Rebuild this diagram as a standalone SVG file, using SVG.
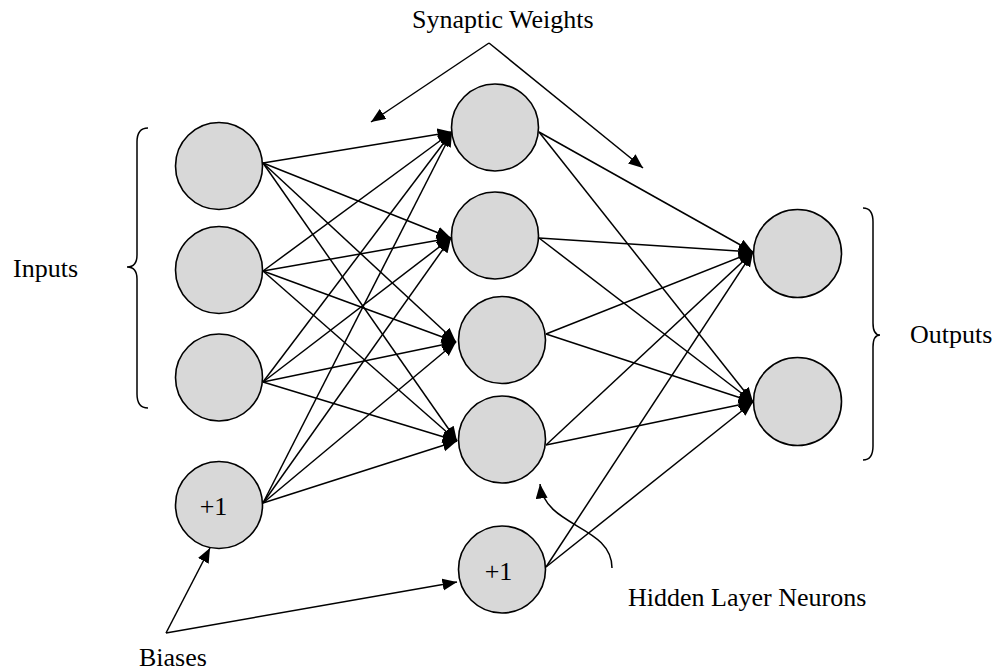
<svg xmlns="http://www.w3.org/2000/svg" width="995" height="671" viewBox="0 0 995 671">
  <style>
    .node { fill: #d8d8d8; stroke: #000; stroke-width: 1.6; }
    .edge { stroke: #000; stroke-width: 1.5; fill: none; marker-end: url(#head); }
    .plain { stroke: #000; stroke-width: 1.5; fill: none; }
    .label { font-family: "Liberation Serif", "Times New Roman", serif; font-size: 26px; fill: #000; }
  </style>
  <defs>
    <marker id="head" markerUnits="userSpaceOnUse" markerWidth="16" markerHeight="13" refX="14.5" refY="6" orient="auto">
      <path d="M0,0 L14.5,6 L0,12 z" fill="#000"/>
    </marker>
  </defs>
  <rect width="995" height="671" fill="#fff"/>

  <!-- weighted connections -->
  <g id="connectors">
    <!-- input 1 to hidden layer -->
    <line class="edge" x1="263" y1="163" x2="452" y2="132"/>
    <line class="edge" x1="263" y1="163" x2="451" y2="238"/>
    <line class="edge" x1="263" y1="163" x2="456" y2="342"/>
    <line class="edge" x1="263" y1="163" x2="457" y2="441"/>
    <!-- input 2 to hidden layer -->
    <line class="edge" x1="263" y1="271" x2="452" y2="132"/>
    <line class="edge" x1="263" y1="271" x2="451" y2="238"/>
    <line class="edge" x1="263" y1="271" x2="456" y2="342"/>
    <line class="edge" x1="263" y1="271" x2="457" y2="441"/>
    <!-- input 3 to hidden layer -->
    <line class="edge" x1="263" y1="382" x2="452" y2="132"/>
    <line class="edge" x1="263" y1="382" x2="451" y2="238"/>
    <line class="edge" x1="263" y1="382" x2="456" y2="342"/>
    <line class="edge" x1="263" y1="382" x2="457" y2="441"/>
    <!-- input bias to hidden layer -->
    <line class="edge" x1="263" y1="503" x2="452" y2="132"/>
    <line class="edge" x1="263" y1="503" x2="451" y2="238"/>
    <line class="edge" x1="263" y1="503" x2="456" y2="342"/>
    <line class="edge" x1="263" y1="503" x2="457" y2="441"/>
    <!-- hidden layer to outputs -->
    <line class="edge" x1="539" y1="132" x2="753" y2="252"/>
    <line class="edge" x1="539" y1="132" x2="753" y2="402"/>
    <line class="edge" x1="539" y1="238" x2="753" y2="252"/>
    <line class="edge" x1="539" y1="238" x2="753" y2="402"/>
    <line class="edge" x1="546" y1="334" x2="753" y2="252"/>
    <line class="edge" x1="546" y1="334" x2="753" y2="402"/>
    <line class="edge" x1="546" y1="445" x2="753" y2="252"/>
    <line class="edge" x1="546" y1="445" x2="753" y2="402"/>
    <line class="edge" x1="546" y1="567" x2="753" y2="252"/>
    <line class="edge" x1="546" y1="567" x2="753" y2="402"/>
  </g>

  <!-- annotation pointers and braces -->
  <g id="annotations">
    <line class="edge" x1="489" y1="43" x2="371" y2="122"/>
    <line class="edge" x1="489" y1="43" x2="643" y2="168"/>
    <line class="edge" x1="166" y1="633" x2="210" y2="548"/>
    <line class="edge" x1="166" y1="633" x2="457" y2="582"/>
    <path class="edge" d="M612,568 C612,525 545,528 540,484"/>
    <path class="plain" d="M148,128 Q137,128 137,142 L137,255 Q137,267 127,267 Q137,267 137,279 L137,394 Q137,408 148,408"/>
    <path class="plain" d="M863,208 Q873,208 873,222 L873,323 Q873,335 880,335 Q873,335 873,347 L873,446 Q873,460 863,460"/>
  </g>

  <!-- input layer -->
  <g id="input1"><circle class="node" cx="219" cy="166" r="43.5"/></g>
  <g id="input2"><circle class="node" cx="219" cy="270" r="43.5"/></g>
  <g id="input3"><circle class="node" cx="219" cy="377.5" r="43.5"/></g>
  <g id="bias-input">
    <circle class="node" cx="219" cy="505" r="43.5"/>
    <text class="label" x="213.5" y="515" text-anchor="middle">+1</text>
  </g>

  <!-- hidden layer -->
  <g id="hidden1"><circle class="node" cx="495" cy="127.5" r="43.5"/></g>
  <g id="hidden2"><circle class="node" cx="495" cy="235.5" r="43.5"/></g>
  <g id="hidden3"><circle class="node" cx="502" cy="340" r="43.5"/></g>
  <g id="hidden4"><circle class="node" cx="502" cy="439.5" r="43.5"/></g>
  <g id="bias-hidden">
    <circle class="node" cx="502" cy="569.5" r="43.5"/>
    <text class="label" x="498.5" y="580" text-anchor="middle">+1</text>
  </g>

  <!-- output layer -->
  <g id="output1"><circle class="node" cx="797.5" cy="253.5" r="44"/></g>
  <g id="output2"><circle class="node" cx="797.5" cy="401.5" r="44"/></g>

  <!-- captions -->
  <g id="captions">
    <text class="label" x="412" y="28">Synaptic Weights</text>
    <text class="label" x="13" y="277">Inputs</text>
    <text class="label" x="910" y="343">Outputs</text>
    <text class="label" x="628" y="606">Hidden Layer Neurons</text>
    <text class="label" x="139" y="666">Biases</text>
  </g>
</svg>
